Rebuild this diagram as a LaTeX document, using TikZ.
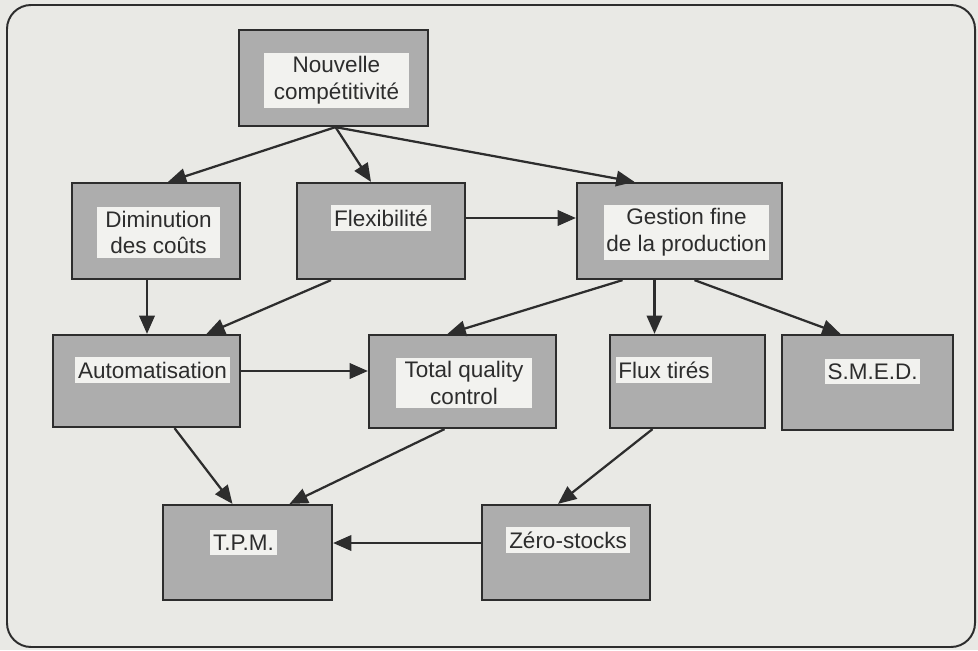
\documentclass[tikz,border=0pt]{standalone}
\usepackage{fontspec}
\setmainfont{Liberation Sans}
\usetikzlibrary{arrows.meta, positioning, calc}
\definecolor{pagebg}{RGB}{233,233,229}
\definecolor{labelbg}{RGB}{242,242,239}
\definecolor{ink}{RGB}{45,45,45}
\tikzset{
  cadre/.style 2 args={draw=ink, line width=1.6pt, fill=black!32, inner sep=0pt,
    minimum width=#1*0.025cm, minimum height=#2*0.025cm},
  etiq/.style={fill=labelbg, text=ink, inner xsep=2pt, inner ysep=3.5pt,
    font=\fontsize{16}{19}\selectfont, align=center},
  fleche/.style={draw=ink, line width=1.6pt, -{Triangle[length=13pt,width=11pt]}}
}

\begin{document}
\begin{tikzpicture}[x=0.025cm, y=-0.025cm]
  \fill[pagebg] (0,0) rectangle (978,650);
  \useasboundingbox (0,0) rectangle (978,650);
  \draw[ink, line width=1.4pt, rounded corners=0.6cm] (7,5) rectangle (975,647);

  % Top
  \node[cadre={189}{96}] (nouv) at (333.5,78) {};
  \node[etiq, inner xsep=7pt, inner ysep=2.5pt] (nouv-t) at (336.5,80.5) {Nouvelle\\comp\'etitivit\'e};

  % Second row
  \node[cadre={168}{96}] (dim) at (156,231) {};
  \node[etiq, inner xsep=6pt, inner ysep=2.5pt] (dim-t) at (158.5,232.5) {Diminution\\des co\^uts};
  \node[cadre={168}{96}] (flex) at (381,231) {};
  \node[etiq] (flex-t) at (381,218) {Flexibilit\'e};
  \node[cadre={205}{96}] (gest) at (679.5,231) {};
  \node[etiq, inner xsep=2pt, inner ysep=2.5pt] (gest-t) at (686.5,232.5) {Gestion fine\\de la production};

  % Third row
  \node[cadre={187}{92}] (auto) at (146.5,381) {};
  \node[etiq] (auto-t) at (152.5,370) {Automatisation};
  \node[cadre={187}{93}] (tqc) at (462.5,381.5) {};
  \node[etiq, inner xsep=6pt, inner ysep=2.5pt] (tqc-t) at (464,383) {Total quality\\control};
  \node[cadre={155}{93}] (flux) at (687.5,381.5) {};
  \node[etiq] (flux-t) at (664,370) {Flux tir\'es};
  \node[cadre={171}{95}] (smed) at (867.5,382.5) {};
  \node[etiq] (smed-t) at (872.5,371.5) {S.M.E.D.};

  % Bottom
  \node[cadre={169}{95}] (tpm) at (247.5,552.5) {};
  \node[etiq] (tpm-t) at (243.5,542.5) {T.P.M.};
  \node[cadre={168}{95}] (zero) at (566,552.5) {};
  \node[etiq] (zero-t) at (568,540) {Z\'ero-stocks};

  % Links
  \coordinate (n0) at ($(nouv.south)+(2,0)$);
  \draw[fleche] (n0) -- ($(dim.north)+(12,0)$);
  \draw[fleche] (n0) -- ($(flex.north)+(-10,0)$);
  \draw[fleche] (n0) -- ($(gest.north)+(-45,0)$);
  \coordinate (f0) at ($(flex.east)+(0,-13)$);
  \draw[fleche] (f0) -- (f0 -| gest.west);
  \coordinate (d0) at ($(dim.south)+(-9,0)$);
  \draw[fleche] (d0) -- (d0 |- auto.north);
  \draw[fleche] ($(flex.south)+(-50,0)$) -- ($(auto.north)+(60,0)$);
  \coordinate (a0) at ($(auto.east)+(0,-10)$);
  \draw[fleche] (a0) -- (a0 -| tqc.west);
  \draw[fleche] ($(gest.south)+(-57,0)$) -- ($(tqc.north)+(-15,0)$);
  \coordinate (g0) at ($(gest.south)+(-25,0)$);
  \draw[fleche] (g0) -- (g0 |- flux.north);
  \draw[fleche] ($(gest.south)+(15,0)$) -- ($(smed.north)+(-27,0)$);
  \draw[fleche] ($(auto.south)+(28,0)$) -- ($(tpm.north)+(-15,0)$);
  \draw[fleche] ($(tqc.south)+(-18,0)$) -- ($(tpm.north)+(42,0)$);
  \draw[fleche] ($(flux.south)+(-35,0)$) -- ($(zero.north)+(-8,0)$);
  \coordinate (z0) at ($(zero.west)+(0,-9.5)$);
  \draw[fleche] (z0) -- (z0 -| tpm.east);
\end{tikzpicture}
\end{document}
